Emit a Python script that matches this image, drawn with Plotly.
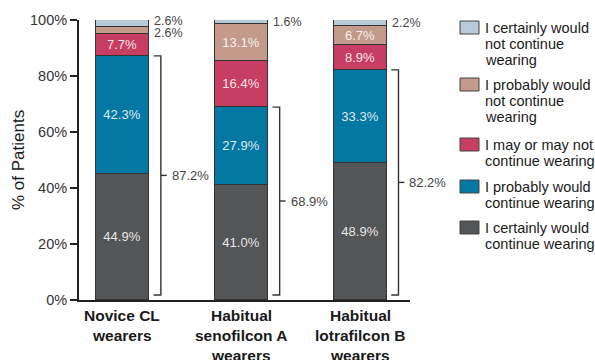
import plotly.graph_objects as go

# Survey responses (% of patients) per group, stacked bottom to top
groups = ["Novice CL wearers", "Habitual senofilcon A wearers", "Habitual lotrafilcon B wearers"]
group_lines = [["Novice CL", "wearers"],
               ["Habitual", "senofilcon A", "wearers"],
               ["Habitual", "lotrafilcon B", "wearers"]]
certainly_continue = [44.9, 41.0, 48.9]
probably_continue = [42.3, 27.9, 33.3]
may_or_may_not = [7.7, 16.4, 8.9]
probably_not = [2.6, 13.1, 6.7]
certainly_not = [2.6, 1.6, 2.2]

series_names = ["I certainly would continue wearing",
                "I probably would continue wearing",
                "I may or may not continue wearing",
                "I probably would not continue wearing",
                "I certainly would not continue wearing"]
legend_lines = [["I certainly would", "continue wearing"],
                ["I probably would", "continue wearing"],
                ["I may or may not", "continue wearing"],
                ["I probably would", "not continue", "wearing"],
                ["I certainly would", "not continue", "wearing"]]
series_values = [certainly_continue, probably_continue, may_or_may_not,
                 probably_not, certainly_not]
colors = ["#545556", "#0478a3", "#c63e62", "#c39a8b", "#b6cad7"]

yticks = [0, 20, 40, 60, 80, 100]
ytick_text = ["0%", "20%", "40%", "60%", "80%", "100%"]

FONT = "Liberation Sans, Arial, sans-serif"
BAR_W = 0.445
INSIDE_MIN = 5.0

# plot area in pixels
L, R, T, B = 79, 410, 20, 300
W, H = 595, 360


def px(xp):
    return (xp - L) / (R - L)


def py(yp):
    return (B - yp) / (B - T)


x = [0, 1, 2]
fig = go.Figure()

for name, vals, col in zip(series_names, series_values, colors):
    fig.add_trace(go.Bar(
        x=x, y=vals, name=name, width=BAR_W,
        marker=dict(color=col, line=dict(color="#333333", width=1)),
        text=[f"{v:.1f}%" if v >= INSIDE_MIN else "" for v in vals],
        textposition="inside", insidetextanchor="middle", textangle=0,
        constraintext="none",
        textfont=dict(family=FONT, size=13, color="rgba(255,255,255,0.88)"),
        showlegend=False, hoverinfo="name+y",
    ))

annotations = []

# small segments labelled to the right of the bar;
# neighbouring small labels are nudged apart a little
for i in range(3):
    base = 0.0
    small = []
    for vals in series_values:
        v = vals[i]
        if v < INSIDE_MIN:
            small.append((base + v / 2, v))
        base += v
    for k, (ymid, v) in enumerate(small):
        shift = 0
        if len(small) > 1:
            shift = -2 if k == 0 else 2
        annotations.append(dict(
            x=i + BAR_W / 2 + 0.03, y=ymid, xref="x", yref="y", yshift=shift,
            text=f"{v:.1f}%", showarrow=False, xanchor="left", yanchor="middle",
            font=dict(family=FONT, size=12.5, color="#444444")))

# brackets showing combined "would continue" share
BR_LOW = 1.8
for i in range(3):
    total = certainly_continue[i] + probably_continue[i]
    xv = i + 0.323
    xt = i + 0.262
    mid = (total + BR_LOW) / 2
    fig.add_trace(go.Scatter(
        x=[xt, xv, xv, xt, None, xv, xv + 0.05],
        y=[total, total, BR_LOW, BR_LOW, None, mid, mid],
        mode="lines", line=dict(color="#333333", width=1.4),
        showlegend=False, hoverinfo="skip",
    ))
    annotations.append(dict(
        x=xv + 0.075, y=mid, xref="x", yref="y", text=f"{total:.1f}%",
        showarrow=False, xanchor="left", yanchor="middle",
        font=dict(family=FONT, size=13, color="#444444")))

# category labels below the axis
for i, lines in enumerate(group_lines):
    for j, line in enumerate(lines):
        annotations.append(dict(
            x=i, y=py(315 + 20 * j), xref="x", yref="paper", text=f"<b>{line}</b>",
            showarrow=False, xanchor="center", yanchor="middle",
            font=dict(family=FONT, size=15.5, color="#1a1a1a")))

# y-axis title
annotations.append(dict(
    x=px(18), y=0.5, xref="paper", yref="paper", text="% of Patients",
    textangle=-90, showarrow=False, xanchor="center", yanchor="middle",
    font=dict(family=FONT, size=17, color="#1a1a1a")))

# legend, top entry first
shapes = []
box_tops = [221, 180, 138, 78, 21]
for k in range(5):
    top = box_tops[k]
    shapes.append(dict(
        type="rect", xref="paper", yref="paper",
        x0=px(460), x1=px(479), y0=py(top), y1=py(top + 13),
        fillcolor=colors[k], line=dict(color="#444444", width=1)))
    for j, line in enumerate(legend_lines[k]):
        annotations.append(dict(
            x=px(483), y=py(top + 7 + 16 * j), xref="paper", yref="paper",
            text=line, showarrow=False, xanchor="left", yanchor="middle",
            font=dict(family=FONT, size=14.5, color="#1a1a1a")))

fig.update_layout(
    width=W, height=H, barmode="stack", bargap=0,
    margin=dict(l=L, r=W - R, t=T, b=H - B, pad=0),
    paper_bgcolor="white", plot_bgcolor="white",
    font=dict(family=FONT, color="#333333"),
    showlegend=False,
    xaxis=dict(range=[-0.366, 2.42], showgrid=False, zeroline=False,
               showline=True, linecolor="#222222", linewidth=2,
               tickvals=x, ticktext=["", "", ""], ticks=""),
    yaxis=dict(range=[0, 100], tickvals=yticks, ticktext=ytick_text,
               showgrid=False, zeroline=False, showline=True,
               linecolor="#222222", linewidth=2, ticks="outside",
               ticklen=7, tickwidth=1.5, tickcolor="#222222",
               tickfont=dict(family=FONT, size=14.5, color="#333333")),
    annotations=annotations, shapes=shapes,
)

fig.write_html("out.html")
